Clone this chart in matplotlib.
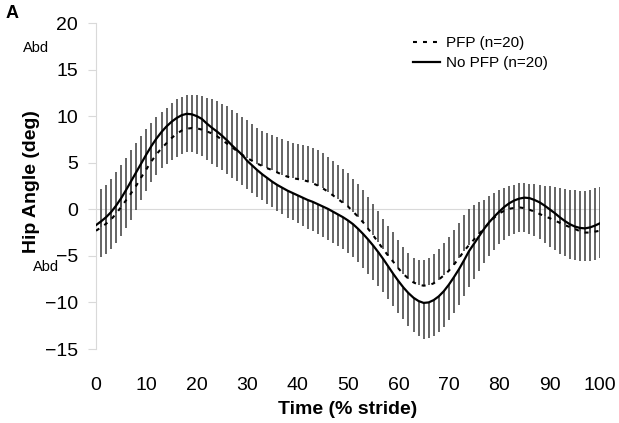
import matplotlib
matplotlib.use("Agg")
import matplotlib.pyplot as plt
import numpy as np

plt.rcParams['font.family'] = ['Liberation Sans', 'DejaVu Sans']

# % of stride, one value per 1 %
stride = list(range(0, 101))

# PFP group mean hip angle (deg)
pfp_mean = [
    -2.30, -1.95, -1.55, -1.10, -0.45, 0.25, 1.00, 1.75, 2.55, 3.45,
    4.30, 5.15, 5.90, 6.55, 7.10, 7.65, 8.10, 8.45, 8.65, 8.72,
    8.70, 8.55, 8.35, 8.15, 7.85, 7.45, 7.05, 6.65, 6.25, 5.85,
    5.50, 5.20, 4.90, 4.65, 4.40, 4.20, 3.95, 3.70, 3.50, 3.35,
    3.25, 3.15, 3.00, 2.80, 2.55, 2.25, 1.90, 1.50, 1.10, 0.70,
    0.30, -0.25, -0.80, -1.40, -2.10, -2.80, -3.55, -4.30, -5.00, -5.65,
    -6.35, -6.95, -7.45, -7.85, -8.10, -8.20, -8.15, -7.95, -7.55, -7.10,
    -6.60, -5.95, -5.25, -4.50, -3.85, -3.25, -2.65, -2.05, -1.45, -0.90,
    -0.45, -0.15, 0.05, 0.15, 0.20, 0.12, -0.05, -0.25, -0.50, -0.75,
    -0.95, -1.20, -1.45, -1.70, -1.90, -2.10, -2.35, -2.50, -2.50, -2.40,
    -2.30,
]
# PFP standard deviation (drawn upward only)
pfp_sd = [
    4.00, 4.10, 4.20, 4.30, 4.40, 4.50, 4.55, 4.60, 4.55, 4.45,
    4.30, 4.15, 4.00, 3.90, 3.80, 3.75, 3.70, 3.65, 3.60, 3.55,
    3.55, 3.60, 3.65, 3.70, 3.80, 3.90, 4.00, 4.05, 4.10, 4.10,
    4.05, 3.95, 3.85, 3.80, 3.80, 3.80, 3.80, 3.80, 3.80, 3.80,
    3.80, 3.80, 3.80, 3.80, 3.80, 3.75, 3.75, 3.70, 3.70, 3.65,
    3.60, 3.55, 3.50, 3.45, 3.40, 3.40, 3.35, 3.30, 3.25, 3.20,
    3.05, 2.90, 2.75, 2.65, 2.65, 2.75, 2.90, 3.10, 3.30, 3.50,
    3.60, 3.70, 3.80, 3.85, 3.85, 3.70, 3.40, 3.10, 2.85, 2.65,
    2.50, 2.45, 2.45, 2.50, 2.60, 2.70, 2.80, 2.95, 3.10, 3.25,
    3.40, 3.55, 3.70, 3.85, 4.00, 4.15, 4.30, 4.45, 4.55, 4.65,
    4.70,
]
# No PFP group mean hip angle (deg), solid curve
nopfp_mean = [
    -1.70, -1.30, -0.85, -0.30, 0.40, 1.20, 2.10, 3.05, 4.00, 4.95,
    5.90, 6.80, 7.60, 8.30, 8.90, 9.40, 9.80, 10.10, 10.25, 10.20,
    10.00, 9.70, 9.20, 8.75, 8.35, 7.90, 7.40, 6.85, 6.35, 5.85,
    5.20, 4.70, 4.20, 3.75, 3.35, 2.95, 2.60, 2.30, 2.00, 1.75,
    1.50, 1.25, 1.00, 0.80, 0.55, 0.30, 0.05, -0.25, -0.55, -0.85,
    -1.20, -1.60, -2.10, -2.65, -3.25, -3.90, -4.60, -5.35, -6.15, -6.95,
    -7.70, -8.40, -9.00, -9.50, -9.85, -10.05, -10.00, -9.75, -9.35, -8.80,
    -8.10, -7.30, -6.45, -5.50, -4.50, -3.70, -2.90, -2.10, -1.40, -0.80,
    -0.25, 0.25, 0.65, 0.95, 1.15, 1.25, 1.20, 1.00, 0.75, 0.40,
    0.00, -0.40, -0.85, -1.25, -1.60, -1.85, -2.00, -2.05, -1.95, -1.75,
    -1.50,
]
# No PFP standard deviation (drawn downward only)
nopfp_sd = [
    3.80, 3.85, 3.90, 3.95, 4.00, 4.05, 4.10, 4.15, 4.10, 4.00,
    3.95, 3.90, 3.90, 3.90, 4.00, 4.10, 4.20, 4.20, 4.15, 4.10,
    4.05, 4.00, 3.95, 3.90, 3.80, 3.70, 3.60, 3.45, 3.30, 3.20,
    3.05, 2.95, 2.85, 2.80, 2.75, 2.75, 2.80, 2.85, 2.90, 2.95,
    3.00, 3.05, 3.10, 3.15, 3.20, 3.25, 3.30, 3.35, 3.40, 3.45,
    3.50, 3.55, 3.60, 3.65, 3.65, 3.65, 3.60, 3.55, 3.50, 3.45,
    3.40, 3.40, 3.50, 3.65, 3.80, 3.85, 3.85, 3.85, 3.80, 3.80,
    3.80, 3.80, 3.80, 3.80, 3.80, 3.75, 3.70, 3.65, 3.60, 3.55,
    3.50, 3.50, 3.50, 3.55, 3.60, 3.70, 3.80, 3.90, 3.95, 4.00,
    4.00, 3.95, 3.90, 3.80, 3.70, 3.60, 3.55, 3.55, 3.60, 3.65,
    3.70,
]

x_ticks = list(range(0, 101, 10))
y_ticks = list(range(-15, 21, 5))

fig = plt.figure(figsize=(6.19, 4.23), dpi=100)
ax = fig.add_axes([96 / 619, 1 - 349 / 423, 504 / 619, 326 / 423])

bar_color = '#4a4a4a'
zeros = np.zeros(len(stride))

# error bars: PFP upward, No PFP downward
ax.errorbar(stride, pfp_mean, yerr=[zeros, pfp_sd], fmt='none',
            ecolor=bar_color, elinewidth=1.2, capsize=0, zorder=2)
ax.errorbar(stride, nopfp_mean, yerr=[nopfp_sd, zeros], fmt='none',
            ecolor=bar_color, elinewidth=1.2, capsize=0, zorder=2)

ax.plot(stride, pfp_mean, color='black', lw=1.5, linestyle=(0, (1.9, 2.9)),
        label='PFP (n=20)', zorder=3)
ax.plot(stride, nopfp_mean, color='black', lw=1.6, label='No PFP (n=20)',
        zorder=3)

ax.axhline(0, color='#d9d9d9', lw=0.8, zorder=1)

ax.set_xlim(0, 100)
ax.set_ylim(-15, 20)
ax.set_xticks(x_ticks)
ax.set_yticks(y_ticks)

for side in ['top', 'right', 'bottom']:
    ax.spines[side].set_visible(False)
ax.spines['left'].set_color('#d9d9d9')
ax.spines['left'].set_linewidth(0.8)

ax.tick_params(axis='y', direction='out', length=6, width=0.8,
               color='#d9d9d9', labelsize=14, pad=7)
ax.tick_params(axis='x', length=0, labelsize=14, pad=20)

leg = ax.legend(loc='upper left', bbox_to_anchor=(413 / 619, 1 - 36 / 423),
                bbox_transform=fig.transFigure, frameon=False, fontsize=11,
                borderpad=0, borderaxespad=0, handlelength=1.8,
                handletextpad=0.35, labelspacing=0.4)

fig.text(348 / 619, 1 - 409 / 423, 'Time (% stride)', ha='center',
         va='center', fontsize=14, fontweight='bold')
fig.text(31 / 619, 1 - 182 / 423, 'Hip Angle (deg)', ha='center',
         va='center', rotation=90, fontsize=14, fontweight='bold')
fig.text(12 / 619, 1 - 14 / 423, 'A', ha='center', va='center',
         fontsize=13, fontweight='bold')
fig.text(36 / 619, 1 - 48 / 423, 'Abd', ha='center', va='center',
         fontsize=10.5)
fig.text(46 / 619, 1 - 267 / 423, 'Abd', ha='center', va='center',
         fontsize=10.5)

fig.savefig('out.png', dpi=100)
